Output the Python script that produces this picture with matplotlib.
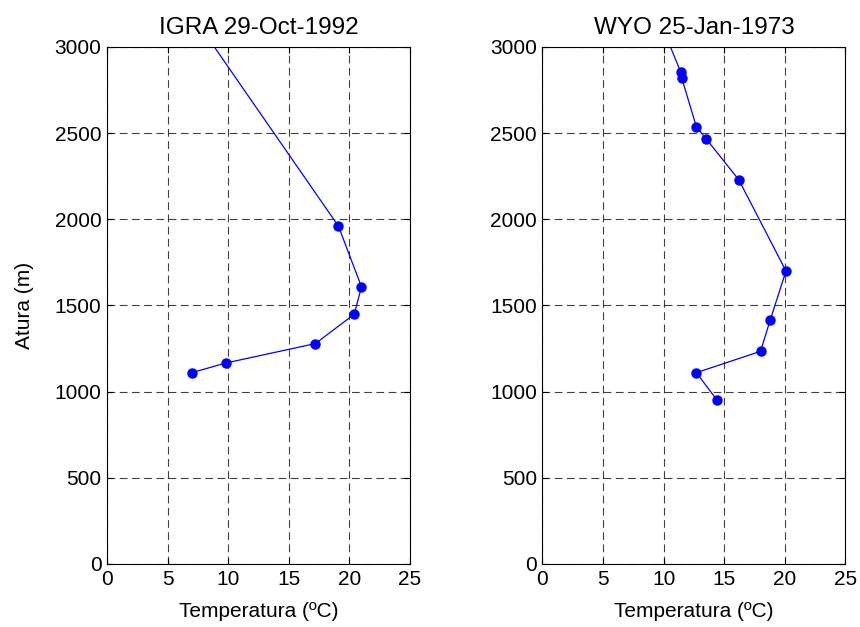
import matplotlib
matplotlib.use("Agg")
import matplotlib.pyplot as plt

plt.rcParams['font.family'] = ['Liberation Sans', 'DejaVu Sans']

# IGRA 29-Oct-1992 profile
igra_temp = [7.0, 9.8, 17.2, 20.4, 21.0, 19.1, 6.1]
igra_alt = [1110, 1166, 1279, 1449, 1608, 1960, 3280]

# WYO 25-Jan-1973 profile
wyo_temp = [14.4, 12.7, 18.0, 18.8, 20.1, 16.2, 13.5, 12.7, 11.5, 11.4, 9.4]
wyo_alt = [952, 1110, 1234, 1416, 1700, 2230, 2468, 2538, 2819, 2857, 3200]

titles = ['IGRA 29-Oct-1992', 'WYO 25-Jan-1973']
xticks = [0, 5, 10, 15, 20, 25]
yticks = [0, 500, 1000, 1500, 2000, 2500, 3000]

fig = plt.figure(figsize=(8.6, 6.27), dpi=100)
ax1 = fig.add_axes([0.1244, 0.1005, 0.3523, 0.8246])
ax2 = fig.add_axes([0.6307, 0.1005, 0.3523, 0.8246])

for ax, t, h, title in [(ax1, igra_temp, igra_alt, titles[0]),
                        (ax2, wyo_temp, wyo_alt, titles[1])]:
    ax.plot(t, h, color='blue', lw=0.9, marker='o', ms=6.5)
    ax.set_xlim(0, 25)
    ax.set_ylim(0, 3000)
    ax.set_xticks(xticks)
    ax.set_yticks(yticks)
    ax.grid(True, color='black', alpha=0.75, linestyle=(0, (7, 4)), lw=0.8)
    ax.tick_params(direction='in', top=True, right=True, labelsize=15,
                   length=4, width=0.8, pad=4)
    for s in ax.spines.values():
        s.set_linewidth(0.8)
    ax.set_title(title, fontsize=17.5, pad=9)
    ax.set_xlabel('Temperatura (ºC)', fontsize=15, labelpad=10)

ax1.set_ylabel('Atura (m)', fontsize=15, labelpad=15)

fig.savefig('out.png', dpi=100)
